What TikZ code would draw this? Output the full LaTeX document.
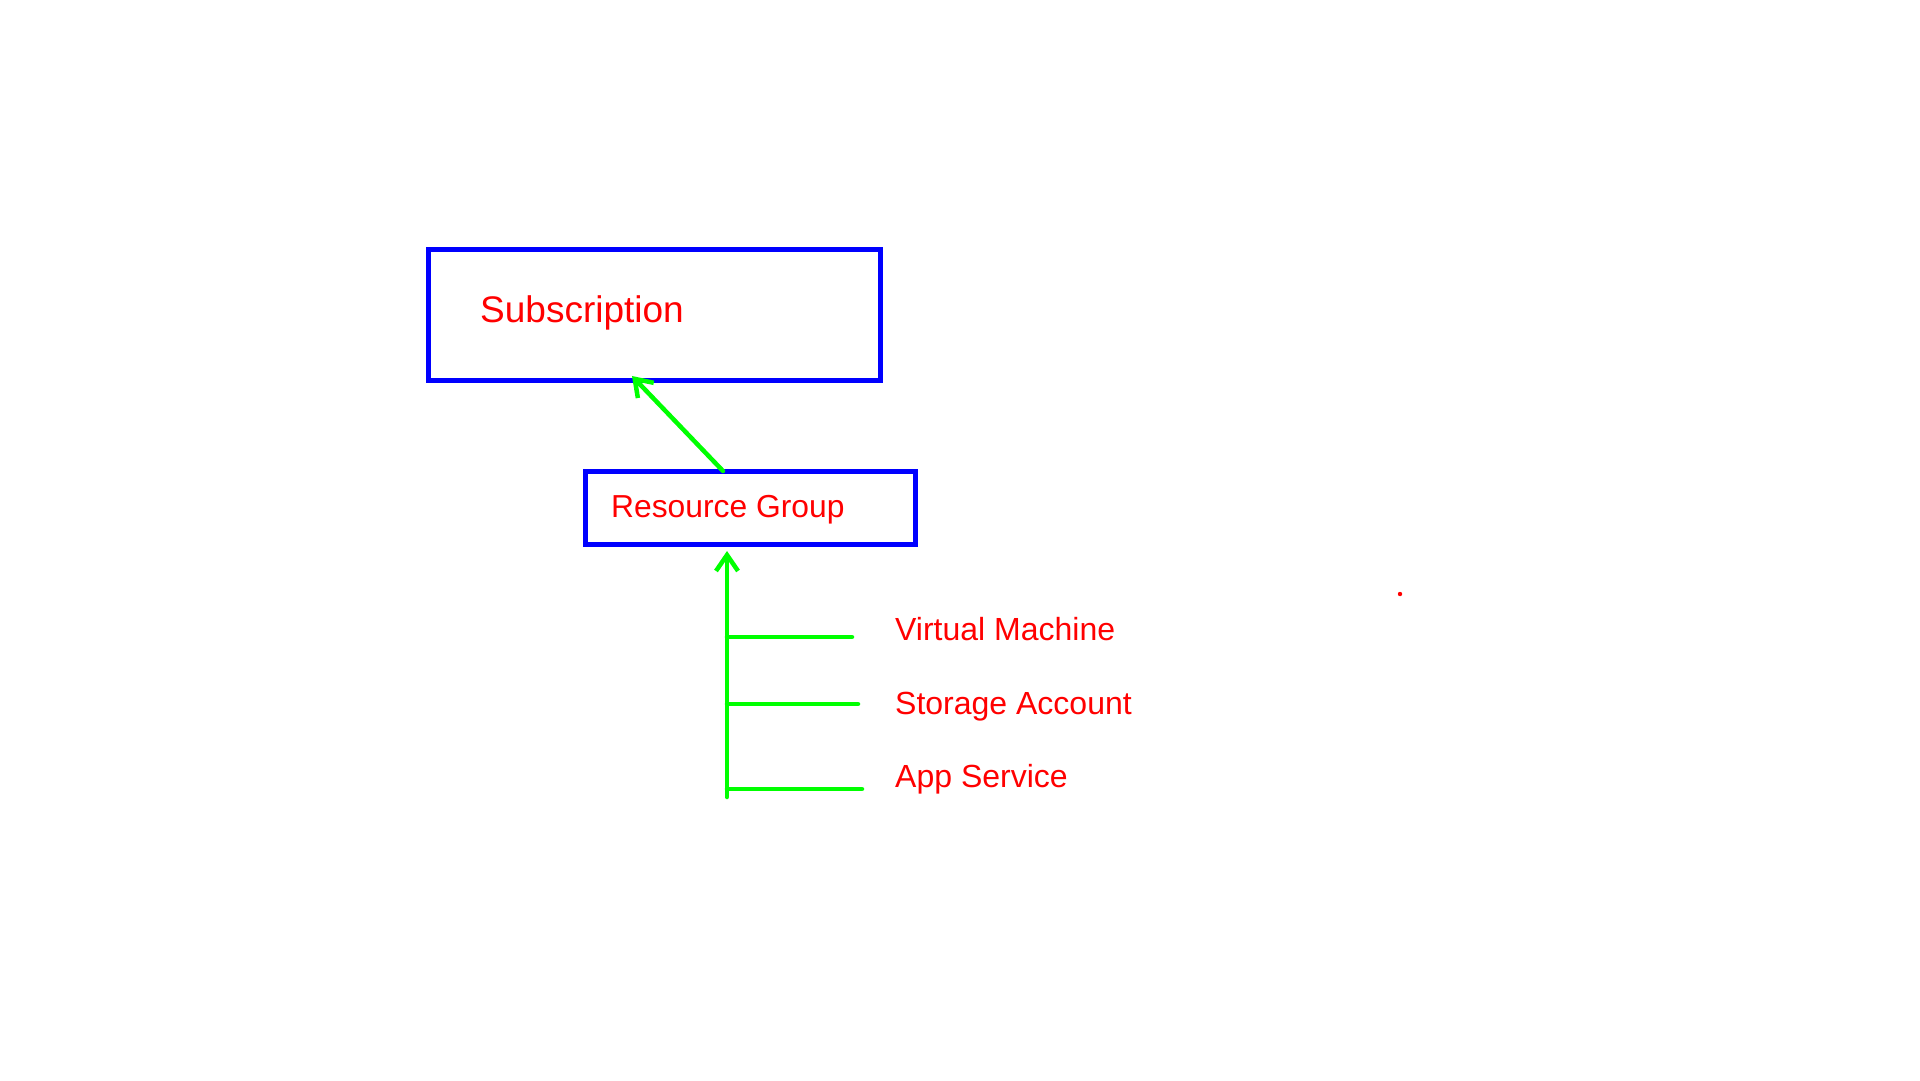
\documentclass[tikz,border=0pt]{standalone}
\usepackage{fontspec}
\setmainfont{Liberation Sans}
\usetikzlibrary{arrows.meta}
\definecolor{boxblue}{RGB}{0,0,255}
\definecolor{txtred}{RGB}{255,0,0}
\definecolor{lngreen}{RGB}{0,255,0}
\begin{document}
\begin{tikzpicture}[x=1pt,y=-1pt,
  boxstyle/.style={draw=boxblue, line width=5pt, rectangle, inner sep=0pt},
  lbl/.style={text=txtred, anchor=base west, inner sep=0pt, font=\fontsize{32}{36}\selectfont},
  conn/.style={draw=lngreen, line width=4.5pt, line cap=round},
  arr/.style={conn, -{Straight Barb[length=16pt, width=22pt, line width=4.5pt]}}
]
\useasboundingbox[fill=white] (0,0) rectangle (1920,1080);
% boxes
\node[boxstyle, minimum width=452pt, minimum height=131pt] (sub) at (654.5,315) {};
\node[boxstyle, minimum width=330pt, minimum height=73pt] (rg) at (750.5,508) {};
% labels
\node[lbl, font=\fontsize{37}{42}\selectfont] (subt) at (480,322) {Subscription};
\node[lbl, font=\fontsize{31.8}{36}\selectfont] (rgt) at (611,517) {Resource Group};
\node[lbl] (vm) at (895,640) {Virtual Machine};
\node[lbl] (sa) at (895,714) {Storage Account};
\node[lbl] (as) at (895,787) {App Service};
% connectors
\coordinate (a1s) at (723,471);
\coordinate (a1e) at (632,376);
\draw[arr] (a1s) -- (a1e);
\coordinate (vbot) at (727,797);
\coordinate (vtop) at (727,551);
\draw[arr] (vbot) -- (vtop);
\coordinate (h1s) at (727,637);
\coordinate (h1e) at (852,637);
\coordinate (h2s) at (727,704);
\coordinate (h2e) at (858,704);
\coordinate (h3s) at (727,789);
\coordinate (h3e) at (862,789);
\draw[conn] (h1s) -- (h1e);
\draw[conn] (h2s) -- (h2e);
\draw[conn] (h3s) -- (h3e);
% stray dot
\fill[txtred] (1400,594) circle (2.2pt);
\end{tikzpicture}
\end{document}
